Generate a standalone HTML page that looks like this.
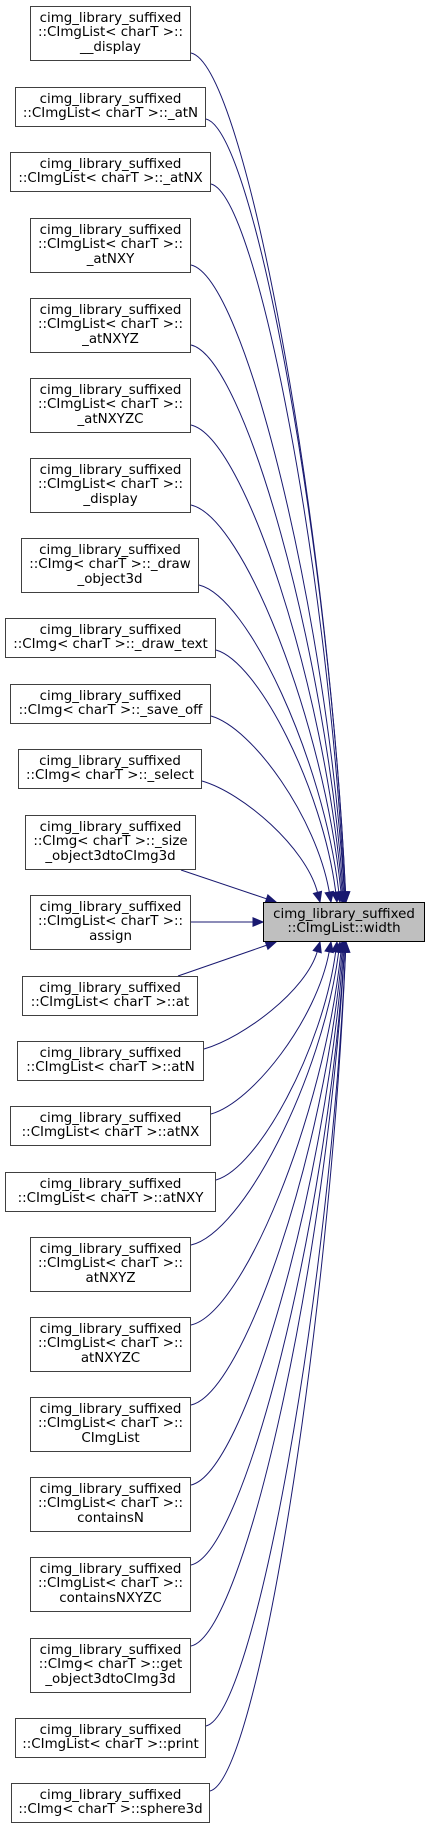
<!DOCTYPE html>
<html><head><meta charset="utf-8">
<style>
body{margin:0;width:431px;height:1830px;background:#fff;position:relative;overflow:hidden;font-family:"DejaVu Sans","Liberation Sans",sans-serif;}
.b{position:absolute;box-sizing:border-box;border:1px solid #404040;background:#fff;font-size:13.4px;line-height:14.3px;text-align:center;color:#000;display:flex;align-items:center;justify-content:center;white-space:pre;}
.t{background:#bfbfbf;border-color:#000;}
svg{position:absolute;left:0;top:0;}
</style></head><body>
<svg id="s" width="431" height="1830"></svg>
<div id="c"></div>
<script>
var boxes=[
[30,191,6,55,"cimg_library_suffixed\n::CImgList< charT >::\n__display"],
[15,206,87,40,"cimg_library_suffixed\n::CImgList< charT >::_atN"],
[10,211,152,40,"cimg_library_suffixed\n::CImgList< charT >::_atNX"],
[30,191,218,55,"cimg_library_suffixed\n::CImgList< charT >::\n_atNXY"],
[30,191,298,55,"cimg_library_suffixed\n::CImgList< charT >::\n_atNXYZ"],
[30,191,378,55,"cimg_library_suffixed\n::CImgList< charT >::\n_atNXYZC"],
[30,191,458,55,"cimg_library_suffixed\n::CImgList< charT >::\n_display"],
[21,199,538,55,"cimg_library_suffixed\n::CImg< charT >::_draw\n_object3d"],
[5,216,618,40,"cimg_library_suffixed\n::CImg< charT >::_draw_text"],
[10,211,684,40,"cimg_library_suffixed\n::CImg< charT >::_save_off"],
[18,202,749,40,"cimg_library_suffixed\n::CImg< charT >::_select"],
[25,196,815,55,"cimg_library_suffixed\n::CImg< charT >::_size\n_object3dtoCImg3d"],
[30,191,895,55,"cimg_library_suffixed\n::CImgList< charT >::\nassign"],
[22,198,976,40,"cimg_library_suffixed\n::CImgList< charT >::at"],
[17,204,1041,40,"cimg_library_suffixed\n::CImgList< charT >::atN"],
[10,211,1106,40,"cimg_library_suffixed\n::CImgList< charT >::atNX"],
[5,216,1172,40,"cimg_library_suffixed\n::CImgList< charT >::atNXY"],
[30,191,1237,55,"cimg_library_suffixed\n::CImgList< charT >::\natNXYZ"],
[30,191,1317,55,"cimg_library_suffixed\n::CImgList< charT >::\natNXYZC"],
[30,191,1397,55,"cimg_library_suffixed\n::CImgList< charT >::\nCImgList"],
[30,191,1477,55,"cimg_library_suffixed\n::CImgList< charT >::\ncontainsN"],
[30,191,1557,55,"cimg_library_suffixed\n::CImgList< charT >::\ncontainsNXYZC"],
[30,191,1638,55,"cimg_library_suffixed\n::CImg< charT >::get\n_object3dtoCImg3d"],
[15,206,1718,40,"cimg_library_suffixed\n::CImgList< charT >::print"],
[11,210,1783,40,"cimg_library_suffixed\n::CImg< charT >::sphere3d"]
];
var c=document.getElementById('c'),h='';
boxes.forEach(function(b){h+='<div class="b" style="left:'+b[0]+'px;width:'+(b[1]-b[0])+'px;top:'+b[2]+'px;height:'+b[3]+'px">'+b[4].replace(/</g,'&lt;').replace(/>/g,'&gt;')+'</div>';});
h+='<div class="b t" style="left:263px;width:162px;top:902px;height:40px">cimg_library_suffixed\n::CImgList::width</div>';
c.innerHTML=h;
var ex=[0,276,320,331,337,340,342,343,344,345,345,346,346];
var s='',col='#191970';
function arrow(x1,y1,x2,y2){var dx=x2-x1,dy=y2-y1,l=Math.sqrt(dx*dx+dy*dy);dx/=l;dy/=l;var L=10,W=4.2;var bx=x2-dx*L,by=y2-dy*L;
s+='<polygon points="'+x2+','+y2+' '+(bx-dy*W)+','+(by+dx*W)+' '+(bx+dy*W)+','+(by-dx*W)+'" fill="'+col+'" stroke="'+col+'"/>';return [bx,by];}
boxes.forEach(function(b,i){
 var xr=b[1];
 if(i==12){var e=arrow(xr,922,263,922);s+='<path d="M'+xr+',922L'+e[0]+','+e[1]+'" stroke="'+col+'" fill="none"/>';return;}
 var up=i<12, d=up?12-i:i-12, ys,ey,ex2=ex[Math.min(d,12)];
 if(up){ys=b[2]+b[3]-8;ey=902;}else{ys=b[2]+8;ey=942;}
 if(d==1){var sx=up?xr-15:xr-20, sy=up?b[2]+b[3]:b[2];var e2=arrow(sx,sy,ex2,ey);s+='<path d="M'+sx+','+sy+'L'+e2[0]+','+e2[1]+'" stroke="'+col+'" fill="none"/>';return;}
 var dir=up?1:-1;
 var c1x=xr+(ex2-xr)*0.35,c1y=ys+dir*12;
 var c2x=ex2-(ex2-xr)*0.12,c2y=ey-dir*Math.abs(ey-ys)*0.45;
 var e3=arrow(c2x,c2y,ex2,ey);
 s+='<path d="M'+xr+','+ys+'C'+c1x+','+c1y+' '+c2x+','+c2y+' '+e3[0]+','+e3[1]+'" stroke="'+col+'" fill="none"/>';
});
document.getElementById('s').innerHTML=s;
</script>
</body></html>
